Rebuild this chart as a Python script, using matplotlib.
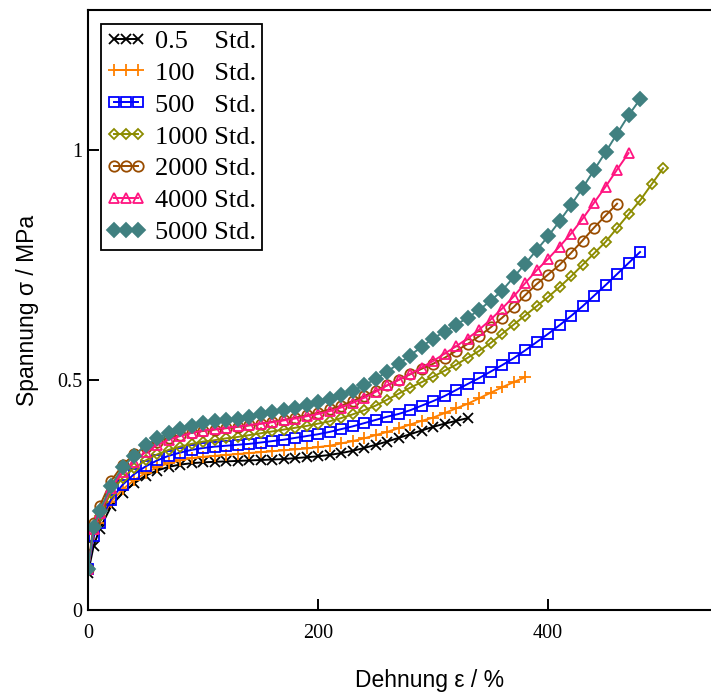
import matplotlib
matplotlib.use("Agg")
import matplotlib.pyplot as plt

# Strain grid (Dehnung in %) shared by all series; each series uses as many points as it has values
strain = [0, 5, 10, 20, 30, 40, 50, 60, 70, 80, 90, 100, 110, 120, 130, 140, 150, 160, 170,
          180, 190, 200, 210, 220, 230, 240, 250, 260, 270, 280, 290, 300, 310, 320, 330, 340,
          350, 360, 370, 380, 390, 400, 410, 420, 430, 440, 450, 460, 470, 480, 490, 500]

s_05 = [0.08, 0.14, 0.175, 0.225, 0.255, 0.275, 0.292, 0.303, 0.311, 0.316, 0.319, 0.321, 0.322,
        0.323, 0.324, 0.325, 0.326, 0.327, 0.328, 0.330, 0.332, 0.334, 0.337, 0.341, 0.346,
        0.352, 0.359, 0.366, 0.374, 0.382, 0.390, 0.398, 0.405, 0.411, 0.417]

s_100 = [0.09, 0.165, 0.19, 0.235, 0.262, 0.282, 0.298, 0.310, 0.319, 0.325, 0.330, 0.333, 0.335,
         0.337, 0.339, 0.341, 0.343, 0.345, 0.347, 0.349, 0.351, 0.354, 0.357, 0.362, 0.367,
         0.373, 0.380, 0.387, 0.395, 0.403, 0.411, 0.418, 0.428, 0.438, 0.448, 0.460, 0.472,
         0.484, 0.495, 0.506]

s_500 = [0.09, 0.16, 0.19, 0.24, 0.272, 0.295, 0.312, 0.325, 0.335, 0.342, 0.348, 0.352, 0.355,
         0.357, 0.359, 0.361, 0.364, 0.367, 0.370, 0.374, 0.378, 0.382, 0.387, 0.393, 0.399,
         0.406, 0.413, 0.420, 0.426, 0.434, 0.444, 0.454, 0.465, 0.478, 0.491, 0.504, 0.518,
         0.532, 0.547, 0.564, 0.582, 0.600, 0.619, 0.639, 0.660, 0.683, 0.706, 0.730, 0.754,
         0.778]

s_1000 = [0.09, 0.175, 0.205, 0.255, 0.287, 0.308, 0.325, 0.338, 0.348, 0.355, 0.361, 0.366,
          0.369, 0.373, 0.376, 0.380, 0.384, 0.388, 0.392, 0.396, 0.400, 0.405, 0.410, 0.417,
          0.425, 0.434, 0.444, 0.457, 0.470, 0.483, 0.495, 0.507, 0.520, 0.533, 0.548, 0.563,
          0.580, 0.600, 0.620, 0.640, 0.660, 0.680, 0.702, 0.725, 0.750, 0.775, 0.800, 0.830,
          0.860, 0.890, 0.925, 0.960]

s_2000 = [0.09, 0.19, 0.225, 0.28, 0.315, 0.338, 0.355, 0.366, 0.374, 0.380, 0.385, 0.389,
          0.392, 0.395, 0.398, 0.401, 0.405, 0.409, 0.413, 0.418, 0.423, 0.429, 0.436, 0.444,
          0.454, 0.465, 0.476, 0.488, 0.500, 0.512, 0.524, 0.535, 0.548, 0.563, 0.578, 0.595,
          0.614, 0.635, 0.658, 0.684, 0.708, 0.729, 0.750, 0.776, 0.803, 0.831, 0.857, 0.883]

s_4000 = [0.09, 0.175, 0.21, 0.265, 0.30, 0.322, 0.343, 0.358, 0.370, 0.378, 0.385, 0.390,
          0.393, 0.396, 0.399, 0.402, 0.405, 0.408, 0.412, 0.416, 0.421, 0.426, 0.432, 0.440,
          0.450, 0.461, 0.474, 0.488, 0.500, 0.513, 0.527, 0.541, 0.557, 0.573, 0.590, 0.609,
          0.631, 0.655, 0.681, 0.710, 0.738, 0.763, 0.790, 0.818, 0.850, 0.885, 0.920, 0.957,
          0.993]

s_5000 = [0.09, 0.18, 0.215, 0.27, 0.31, 0.335, 0.358, 0.373, 0.384, 0.393, 0.400, 0.406,
          0.410, 0.413, 0.416, 0.420, 0.425, 0.430, 0.435, 0.440, 0.446, 0.452, 0.459, 0.467,
          0.477, 0.488, 0.502, 0.518, 0.535, 0.553, 0.572, 0.590, 0.605, 0.620, 0.635, 0.652,
          0.672, 0.694, 0.723, 0.752, 0.782, 0.812, 0.845, 0.880, 0.917, 0.956, 0.995, 1.035,
          1.075, 1.11]

labels = ["0.5    Std.", "100   Std.", "500   Std.", "1000 Std.", "2000 Std.", "4000 Std.", "5000 Std."]
series = [s_05, s_100, s_500, s_1000, s_2000, s_4000, s_5000]
colors = ["#000000", "#FF8000", "#0000FF", "#8C8C00", "#994C00", "#FF1480", "#408080"]
markers = ["x", "+", "s", "D", "o", "^", "D"]
msizes = [7.5, 8.5, 7, 5.5, 7.5, 7.5, 7]
filled = [False, False, False, False, False, False, True]

xticks = [0, 200, 400]
yticks = [0, 0.5, 1]
ytick_labels = ["0", "0.5", "1"]

W, H = 711, 694
fig = plt.figure(figsize=(W / 100, H / 100), dpi=100)
ax = fig.add_axes([88 / W, (H - 610) / H, 623 / W, 600 / H])

for vals, lab, c, m, ms, f in zip(series, labels, colors, markers, msizes, filled):
    ax.plot(strain[:len(vals)], vals, color=c, lw=1.4, marker=m, ms=ms,
            mfc=c if f else "none", mec=c, mew=1.3, label=lab)

ax.set_xlim(0, 541.7)
ax.set_ylim(0, 1.304)
ax.set_xticks(xticks)
ax.set_xticklabels([str(t) for t in xticks])
ax.set_yticks(yticks)
ax.set_yticklabels(ytick_labels)

for lbl in ax.get_xticklabels() + ax.get_yticklabels():
    lbl.set_fontfamily("Liberation Serif")
    lbl.set_fontsize(14.5)
ax.tick_params(direction="in", length=8, width=1.4)
ax.tick_params(axis="x", pad=10)
ax.tick_params(axis="y", pad=4)

ax.spines["right"].set_visible(False)
for sp in ["left", "bottom", "top"]:
    ax.spines[sp].set_linewidth(1.5)

ax.set_xlabel("Dehnung ε / %", fontfamily="Liberation Sans", fontsize=16.5)
ax.set_ylabel("Spannung σ / MPa", fontfamily="Liberation Sans", fontsize=16.5)
ax.xaxis.label.set(ha="center", va="center")
ax.yaxis.label.set(ha="center", va="center")
ax.xaxis.set_label_coords((430 - 88) / 623, (610 - 680) / 600)
ax.yaxis.set_label_coords((28 - 88) / 623, 0.5)

leg = ax.legend(loc="upper left", bbox_to_anchor=(13 / 623, 1 - 14 / 600), borderaxespad=0,
                numpoints=3, handlelength=1.5, handletextpad=0.35, labelspacing=0.32,
                borderpad=0.2, fancybox=False, framealpha=1,
                prop={"family": "Liberation Serif", "size": 19})
leg.get_frame().set_edgecolor("black")
leg.get_frame().set_linewidth(1.3)

fig.savefig("out.png", dpi=100)
